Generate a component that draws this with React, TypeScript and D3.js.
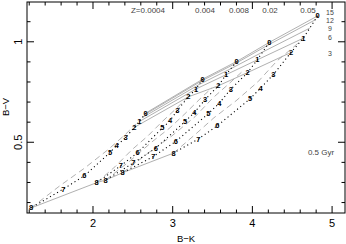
import React, { useEffect, useRef } from 'react';
import * as d3 from 'd3';

const W = 346;
const H = 244;

// step labels drawn at every point of a track
const stepLabels = ['0', '1', '2', '3', '4', '5', '6', '7', '8'];
const zLabels = ['Z=0.0004', '0.004', '0.008', '0.02', '0.05'];
const ageLabels = ['15', '12', '9', '6', '3'];

// dotted tracks (B-K, B-V), one per metallicity, points 0..8
const bkZ0004 = [2.661, 2.581, 2.518, 2.410, 2.297, 2.213, 1.891, 1.627, 1.222];
const bvZ0004 = [0.645, 0.603, 0.574, 0.524, 0.483, 0.449, 0.333, 0.267, 0.173];
const bkZ004 = [3.376, 3.292, 3.196, 3.058, 2.966, 2.870, 2.561, 2.348, 2.046];
const bvZ004 = [0.814, 0.765, 0.726, 0.659, 0.607, 0.571, 0.449, 0.383, 0.299];
const bkZ008 = [3.803, 3.669, 3.572, 3.405, 3.271, 3.154, 2.787, 2.506, 2.159];
const bvZ008 = [0.902, 0.836, 0.781, 0.711, 0.648, 0.603, 0.471, 0.397, 0.312];
const bkZ02 = [4.212, 4.061, 3.941, 3.731, 3.585, 3.447, 3.038, 2.757, 2.370];
const bvZ02 = [0.997, 0.910, 0.847, 0.765, 0.695, 0.642, 0.504, 0.429, 0.348];
const bkZ05 = [4.819, 4.639, 4.484, 4.262, 4.104, 3.970, 3.560, 3.321, 3.010];
const bvZ05 = [1.129, 1.018, 0.947, 0.836, 0.770, 0.716, 0.582, 0.516, 0.446];

// gray dashed tracks
const dbkZ0004 = [1.222, 1.586, 1.900, 2.188, 2.401, 2.540];
const dbvZ0004 = [0.173, 0.284, 0.373, 0.463, 0.537, 0.592];
const dbkZ004 = [2.046, 2.276, 2.489, 2.690, 2.866, 3.029, 3.167];
const dbvZ004 = [0.299, 0.378, 0.463, 0.532, 0.602, 0.662, 0.716];
const dbkZ008 = [2.159, 2.464, 2.740, 2.966, 3.154, 3.343, 3.493];
const dbvZ008 = [0.312, 0.407, 0.502, 0.572, 0.642, 0.716, 0.771];
const dbkZ02 = [2.370, 2.715, 2.991, 3.280, 3.505, 3.719, 3.895];
const dbvZ02 = [0.348, 0.453, 0.532, 0.627, 0.721, 0.796, 0.860];
const dbkZ05 = [3.010, 3.292, 3.518, 3.794, 4.070, 4.309, 4.535, 4.672];
const dbvZ05 = [0.446, 0.542, 0.622, 0.706, 0.801, 0.905, 0.980, 1.030];

// isochrones between the 0 and 1 points (12 and 9 Gyr)
const iso12BK = [2.647, 3.361, 3.779, 4.185, 4.787];
const iso12BV = [0.637, 0.805, 0.890, 0.981, 1.109];
const iso9BK = [2.617, 3.330, 3.729, 4.129, 4.720];
const iso9BV = [0.622, 0.787, 0.866, 0.949, 1.068];

const App: React.FC = () => {
  const svgRef = useRef<SVGSVGElement>(null);

  useEffect(() => {
    document.body.style.margin = '0';
    if (!svgRef.current) return;
    const svg = d3.select(svgRef.current);
    svg.selectAll('*').remove();

    const left = 27, right = 345, top = 2, bottom = 213;
    const x = d3.scaleLinear().domain([1.172, 5.162]).range([left, right]);
    const y = d3.scaleLinear().domain([0.148, 1.198]).range([bottom, top]);

    const line = d3.line<[number, number]>().x(d => x(d[0])).y(d => y(d[1]));
    const zip = (a: number[], b: number[]) => a.map((v, i) => [v, b[i]] as [number, number]);

    const tracks = [
      zip(bkZ0004, bvZ0004), zip(bkZ004, bvZ004), zip(bkZ008, bvZ008),
      zip(bkZ02, bvZ02), zip(bkZ05, bvZ05)
    ];
    const dashed = [
      zip(dbkZ0004, dbvZ0004), zip(dbkZ004, dbvZ004), zip(dbkZ008, dbvZ008),
      zip(dbkZ02, dbvZ02), zip(dbkZ05, dbvZ05)
    ];

    // isochrones across metallicity
    const isoAt = (k: number) => tracks.map(t => t[k]);
    const isochrones = [
      isoAt(0), zip(iso12BK, iso12BV), zip(iso9BK, iso9BV), isoAt(1), isoAt(2), isoAt(8)
    ];

    const g = svg.append('g');

    // gray dashed tracks
    dashed.forEach(d => {
      g.append('path').attr('d', line(d)).attr('fill', 'none')
        .attr('stroke', '#a8a8a8').attr('stroke-width', 0.9)
        .attr('stroke-dasharray', '6 4');
    });

    // gray isochrones
    isochrones.forEach(d => {
      g.append('path').attr('d', line(d)).attr('fill', 'none')
        .attr('stroke', '#9c9c9c').attr('stroke-width', 0.8);
    });

    // dotted tracks
    tracks.forEach(d => {
      g.append('path').attr('d', line(d)).attr('fill', 'none')
        .attr('stroke', '#000').attr('stroke-width', 1.1)
        .attr('stroke-dasharray', '1.1 3');
    });

    // point labels
    tracks.forEach(t => {
      t.forEach((p, i) => {
        g.append('text')
          .attr('x', x(p[0])).attr('y', y(p[1]))
          .attr('text-anchor', 'middle').attr('dominant-baseline', 'central')
          .style('font-family', 'Liberation Sans, Arial, sans-serif')
          .style('font-size', '7.5px').style('font-weight', 'bold')
          .attr('fill', '#000')
          .text(stepLabels[i]);
      });
    });

    // frame
    g.append('rect').attr('x', left).attr('y', top)
      .attr('width', right - left).attr('height', bottom - top)
      .attr('fill', 'none').attr('stroke', '#000').attr('stroke-width', 1);

    // ticks
    const xMajor = [2, 3, 4, 5];
    const xMinor = d3.range(1.2, 5.15, 0.2).filter(v => Math.abs(v - Math.round(v)) > 0.01);
    const yMajor = [0.5, 1];
    const yMinor = d3.range(0.2, 1.19, 0.1).filter(v => Math.abs(v * 2 - Math.round(v * 2)) > 0.01);
    const tick = (x1: number, y1: number, x2: number, y2: number) =>
      g.append('line').attr('x1', x1).attr('y1', y1).attr('x2', x2).attr('y2', y2)
        .attr('stroke', '#000').attr('stroke-width', 1);
    xMajor.forEach(v => { tick(x(v), bottom, x(v), bottom - 7); tick(x(v), top, x(v), top + 7); });
    xMinor.forEach(v => { tick(x(v), bottom, x(v), bottom - 3.5); tick(x(v), top, x(v), top + 3.5); });
    yMajor.forEach(v => { tick(left, y(v), left + 7, y(v)); tick(right, y(v), right - 7, y(v)); });
    yMinor.forEach(v => { tick(left, y(v), left + 3.5, y(v)); tick(right, y(v), right - 3.5, y(v)); });

    const font = 'Liberation Sans, Arial, sans-serif';
    xMajor.forEach(v => {
      g.append('text').attr('x', x(v)).attr('y', 227)
        .attr('text-anchor', 'middle').style('font-family', font).style('font-size', '11px')
        .text(String(v));
    });
    yMajor.forEach(v => {
      g.append('text').attr('transform', `translate(22,${y(v)}) rotate(-90)`)
        .attr('text-anchor', 'middle').style('font-family', font).style('font-size', '11px')
        .text(String(v));
    });

    g.append('text').attr('x', 186).attr('y', 242).attr('text-anchor', 'middle')
      .style('font-family', font).style('font-size', '9.5px').text('B\u2212K');
    g.append('text').attr('transform', 'translate(9,107) rotate(-90)').attr('text-anchor', 'middle')
      .style('font-family', font).style('font-size', '9.5px').text('B\u2212V');

    // metallicity labels along the top
    const zX = [148, 205, 239, 270, 308];
    zLabels.forEach((s, i) => {
      g.append('text').attr('x', zX[i]).attr('y', 13).attr('text-anchor', 'middle')
        .style('font-family', font).style('font-size', '8px').attr('fill', '#444').text(s);
    });

    // age labels on the right
    const ageY = [12, 20, 28.3, 37.3, 53.3];
    ageLabels.forEach((s, i) => {
      g.append('text').attr('x', 330).attr('y', ageY[i]).attr('text-anchor', 'middle')
        .attr('dominant-baseline', 'central')
        .style('font-family', font).style('font-size', '7px').attr('fill', '#444').text(s);
    });
    g.append('text').attr('x', 321).attr('y', 152).attr('text-anchor', 'middle')
      .attr('dominant-baseline', 'central')
      .style('font-family', font).style('font-size', '8px').attr('fill', '#444').text('0.5 Gyr');
  }, []);

  return (
    <div style={{ position: 'absolute', left: 0, top: 0 }}>
      <svg ref={svgRef} width={W} height={H} style={{ display: 'block', background: '#fff', opacity: 0.999 }} />
    </div>
  );
};

export default App;
